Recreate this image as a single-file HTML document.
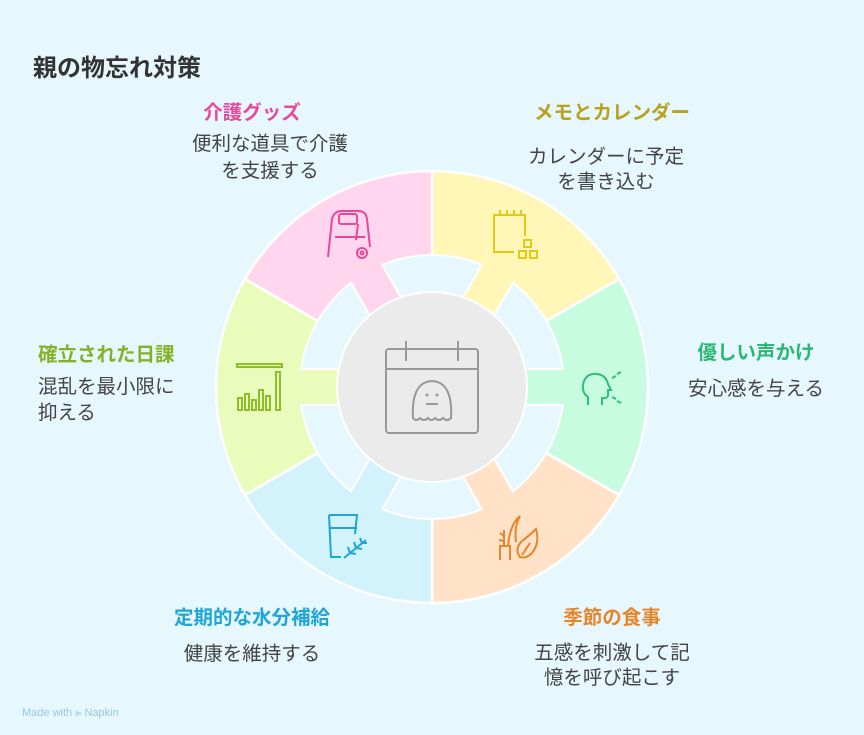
<!DOCTYPE html>
<html><head><meta charset="utf-8"><style>
body{margin:0;width:864px;height:735px;background:#E6F7FD;font-family:"Liberation Sans","Noto Sans CJK JP",sans-serif;position:relative;overflow:hidden}
.t{position:absolute;white-space:nowrap;font-size:19.5px;color:#444;line-height:26px}
.h{font-weight:bold;font-size:19.5px;line-height:27px}
.c{transform:translateX(-50%);text-align:center}
</style></head><body>
<svg width="864" height="735" style="position:absolute;left:0;top:0">
<g stroke="#fff" stroke-width="2.5">
<path d="M432,171 A216,216 0 0 1 619.1,279 L515.1,339 A96,96 0 0 0 432,291 Z" fill="#FFF6B8"/>
<path d="M619.1,279 A216,216 0 0 1 619.1,495 L515.1,435 A96,96 0 0 0 515.1,339 Z" fill="#C8FCE0"/>
<path d="M619.1,495 A216,216 0 0 1 432,603 L432,483 A96,96 0 0 0 515.1,435 Z" fill="#FFE2C8"/>
<path d="M432,603 A216,216 0 0 1 244.9,495 L348.9,435 A96,96 0 0 0 432,483 Z" fill="#D2F2FC"/>
<path d="M244.9,495 A216,216 0 0 1 244.9,279 L348.9,339 A96,96 0 0 0 348.9,435 Z" fill="#EAFCBC"/>
<path d="M244.9,279 A216,216 0 0 1 432,171 L432,291 A96,96 0 0 0 348.9,339 Z" fill="#FFD6EE"/>
</g>
<circle cx="432" cy="387" r="114" fill="none" stroke="#E6F7FD" stroke-width="36"/>
<circle cx="432" cy="387" r="132" fill="none" stroke="#fff" stroke-width="2"/>
<g>
<g transform="rotate(0 432 387)"><rect x="526" y="370" width="40" height="34" fill="#C8FCE0"/><path d="M527,369h37M527,405h37" stroke="#fff" stroke-width="2"/></g>
<g transform="rotate(-60 432 387)"><rect x="526" y="370" width="40" height="34" fill="#FFF6B8"/><path d="M527,369h37M527,405h37" stroke="#fff" stroke-width="2"/></g>
<g transform="rotate(60 432 387)"><rect x="526" y="370" width="40" height="34" fill="#FFE2C8"/><path d="M527,369h37M527,405h37" stroke="#fff" stroke-width="2"/></g>
<g transform="rotate(120 432 387)"><rect x="526" y="370" width="40" height="34" fill="#D2F2FC"/><path d="M527,369h37M527,405h37" stroke="#fff" stroke-width="2"/></g>
<g transform="rotate(180 432 387)"><rect x="526" y="370" width="40" height="34" fill="#EAFCBC"/><path d="M527,369h37M527,405h37" stroke="#fff" stroke-width="2"/></g>
<g transform="rotate(240 432 387)"><rect x="526" y="370" width="40" height="34" fill="#FFD6EE"/><path d="M527,369h37M527,405h37" stroke="#fff" stroke-width="2"/></g>
</g>
<circle cx="432" cy="387" r="95" fill="#EBEBEB" stroke="#fff" stroke-width="2"/>
<g fill="none" stroke="#999" stroke-width="2">
<rect x="386" y="349" width="92" height="84" rx="3"/>
<path d="M386,369h92M406,341v20M458,341v20"/>
<path d="M413,418 q-2,-36 19,-37 q21,1 19,37 q-4,4 -8,0 q-4,4 -8,0 q-4,4 -7,0 q-4,4 -8,0 q-4,4 -7,0z"/>
<path d="M426,404h12"/>
</g>
<circle cx="427" cy="395" r="1.5" fill="#999"/><circle cx="437" cy="395" r="1.5" fill="#999"/>
<g fill="none" stroke="#E8489A" stroke-width="2">
<path d="M328,257 l4,-38 q2,-8 10,-8 h16 q8,0 9,8 l3,28"/><rect x="339" y="214" width="18" height="10" rx="2"/><path d="M335,237h30M358,224l-2,16"/>
<circle cx="362" cy="253" r="5"/><circle cx="362" cy="253" r="1.5"/>
</g>
<g fill="none" stroke="#E3C912" stroke-width="2">
<path d="M525,236v-21h-31v37h20M500,214v-4M507,214v-4M514,214v-4M521,214v-4"/>
<rect x="524" y="240" width="7" height="7"/><rect x="519" y="251" width="7" height="7"/><rect x="530" y="251" width="7" height="7"/>
</g>
<g fill="none" stroke="#2CC07A" stroke-width="2">
<path d="M588,405 v-8 q-6,-4 -5,-12 q2,-12 14,-11 q9,1 11,10 l3,6 h-3 v6 q-2,3 -6,2 v7"/>
<path d="M617,374l4,-2M612,378l4,-2M612,397l4,2M617,401l4,2"/>
</g>
<g fill="none" stroke="#8DBE2A" stroke-width="2">
<rect x="237" y="364" width="45" height="3"/>
<path d="M238,410v-12h4v12zM245,410v-16h4v16zM252,410v-10h4v10zM259,410v-20h4v20zM266,410v-14h4v14zM276,410v-38h4v38z"/>
</g>
<g fill="none" stroke="#1EA6D8" stroke-width="2">
<path d="M329,515h28l-2,19M329,515l2,42h10M330,528h27"/>
<path d="M344,558l22,-18M350,553l-2,-6M350,553l6,1M356,548l-2,-6M356,548l6,1M362,543l-2,-5M362,543l5,0"/>
</g>
<g fill="none" stroke="#E6862B" stroke-width="2">
<path d="M500,560v-14h10v14M504,546v-16M504,536l-4,-3M504,541l-5,-1M508,546q2,-22 12,-30 q-6,10 -4,26"/>
<path d="M520,557 q-6,-8 2,-16 q8,-6 14,-12 q4,14 -4,24 q-6,6 -12,4z M522,555l8,-12"/>
</g>
</svg>
<div class="t h" style="left:33px;top:55px;font-size:24px;color:#333">親の物忘れ対策</div>
<div class="t h c" style="left:252px;top:100px;color:#E8489A">介護グッズ</div>
<div class="t c" style="left:270px;top:131px;line-height:27px">便利な道具で介護<br>を支援する</div>
<div class="t h c" style="left:612px;top:100px;color:#B8A21E">メモとカレンダー</div>
<div class="t c" style="left:606px;top:145px;line-height:25px">カレンダーに予定<br>を書き込む</div>
<div class="t h c" style="left:756px;top:340px;color:#2CB873">優しい声かけ</div>
<div class="t c" style="left:756px;top:376px">安心感を与える</div>
<div class="t h" style="left:38px;top:342px;color:#84B226">確立された日課</div>
<div class="t" style="left:38px;top:374px">混乱を最小限に<br>抑える</div>
<div class="t h c" style="left:252px;top:605px;color:#1EA6D8">定期的な水分補給</div>
<div class="t c" style="left:252px;top:641px">健康を維持する</div>
<div class="t h c" style="left:612px;top:605px;color:#E6862B">季節の食事</div>
<div class="t c" style="left:612px;top:641px;line-height:25px">五感を刺激して記<br>憶を呼び起こす</div>
<div class="t" style="left:22px;top:700px;font-size:11px;color:#9CC8DA">Made with ⫸ Napkin</div>
</body></html>
